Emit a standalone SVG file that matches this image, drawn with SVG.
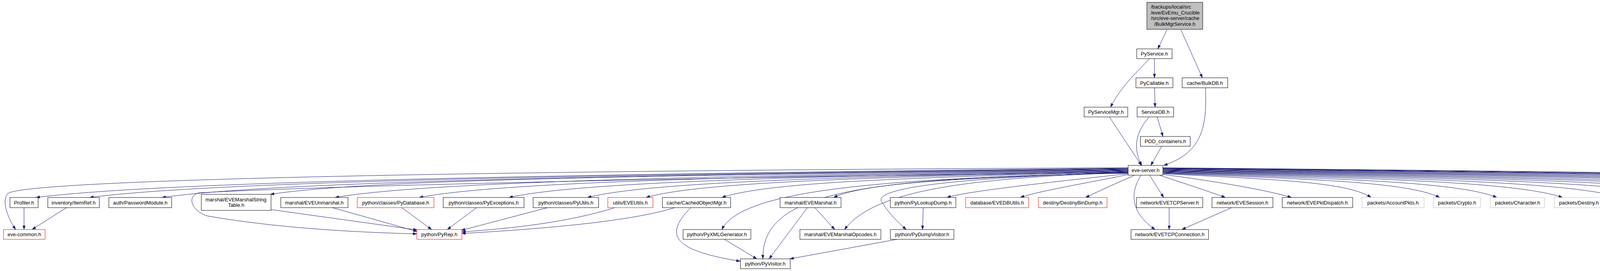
<svg xmlns="http://www.w3.org/2000/svg" width="6338" height="693" viewBox="0 0 6338 693">
<style>
.n rect{fill:#fff;stroke:#000;stroke-width:1}
.n.g rect{stroke:#bfbfbf}
.n.r rect{stroke:#ff0000}
.n.root rect{fill:#bfbfbf}
text{font-family:"Liberation Sans",Arial,Helvetica,sans-serif;font-size:13px;text-anchor:middle;fill:#000}
text.l{text-anchor:start}
#edges path{fill:none;stroke:#191970;stroke-width:1;marker-end:url(#a)}
</style>
<defs>
<marker id="a" markerUnits="userSpaceOnUse" markerWidth="10" markerHeight="7" viewBox="0 0 10 7" refX="10" refY="3.5" orient="auto">
<path d="M0,0 L10,3.5 L0,7 z" fill="#191970" stroke="#191970" stroke-width="0.5"/>
</marker>
</defs>
<rect width="6338" height="693" fill="#fff"/>
<g id="edges">
<path d="M2987.5,76 L2964,125"/>
<path d="M3023,76 L3078,199"/>
<path d="M2942,151 C2915,180 2870,220 2843,274"/>
<path d="M2955.4,151 L2955.4,199"/>
<path d="M2955.8,225 L2957,274"/>
<path d="M2962.6,299 L2977,349"/>
<path d="M2942,299 C2915,330 2895,370 2923,423"/>
<path d="M2840,299 L2922,423"/>
<path d="M2974,374 L2946,423"/>
<path d="M3086,225 C3090,320 3080,390 2979,423"/>
<path d="M2888,430 C1490,445 427,463 92,505"/>
<path d="M2888,431 C1559,446 549,463 229.6,505"/>
<path d="M2888,432 C1651,447 711,463 414.5,505"/>
<path d="M2888,433 C1789,448 954,456 692,497"/>
<path d="M2888,434 C1873,449 1101,463 857.8,505"/>
<path d="M2888,435 C1980,450 1291,463 1073,505"/>
<path d="M2888,436 C2095,451 1493,463 1303,505"/>
<path d="M2888,437 C2196,452 1670,463 1504,505"/>
<path d="M2888,438 C2271,453 1802,463 1653.7,505"/>
<path d="M2888,439 C2368,454 1973,463 1848,505"/>
<path d="M2888,440 C2511,455 2224,463 2134,505"/>
<path d="M2889,444 C2700,465 2480,488 2424,505"/>
<path d="M2890,446 C2800,465 2660,488 2612,505"/>
<path d="M2905,448 C2863,466 2821,485 2779,505"/>
<path d="M2943,448 C2955,467 2967,486 2979,505"/>
<path d="M2968,448 C3020,465 3090,488 3137,505"/>
<path d="M2977,446 C3100,462 3240,485 3306,505"/>
<path d="M2977,444 C3243,459 3446,463 3510,505"/>
<path d="M2977,443 C3331,458 3600,463 3685.6,505"/>
<path d="M2977,442 C3404,457 3729,463 3832,505"/>
<path d="M2977,441 C3488,456 3877,463 4000,505"/>
<path d="M2977,440 C3563,455 4009,463 4150,505"/>
<path d="M2977,439 C3645,454 4152,463 4312.5,505"/>
<path d="M2977,438 C3720,453 4286,463 4464,505"/>
<path d="M2977,437 C3796,452 4418,463 4615,505"/>
<path d="M2977,436 C3868,451 4545,463 4759,505"/>
<path d="M2977,435 C3960,450 4707,463 4942.6,505"/>
<path d="M2977,434 C4031,449 4832,463 5085,505"/>
<path d="M2977,433 C4106,448 4964,463 5234.6,505"/>
<path d="M2977,432 C4189,447 5110,463 5401,505"/>
<path d="M2977,431 C4283,446 5275,463 5588.7,505"/>
<path d="M2977,430.5 C4367,445 5424,463 5757.7,505"/>
<path d="M2977,430 C4444,445 5559,463 5911,505"/>
<path d="M2977,429.5 C4517,444 5688,463 6058,505"/>
<path d="M2977,429 C4594,443 5823,463 6211.6,505"/>
<path d="M2888,429 C1200,436 60,460 20,495 C2,515 22,560 40,587"/>
<path d="M2888,441 C2000,450 900,472 510,493 C478,500 488,538 530,552 C700,582 900,594 1067,598"/>
<path d="M61.5,531 L61.5,587"/>
<path d="M170,531 L82,587"/>
<path d="M694,536 L1068,588"/>
<path d="M851,531 L1068,592"/>
<path d="M1028.7,531 L1105,587"/>
<path d="M1220,531 L1145,587"/>
<path d="M1402,531 L1181,589"/>
<path d="M1574,531 C1450,570 1300,585 1182,593"/>
<path d="M1727,531 C1620,565 1400,585 1182,597"/>
<path d="M1768.5,531 C1700,600 1720,640 1895,668"/>
<path d="M1854.6,612 L1937.5,662"/>
<path d="M2888,442 C2300,456 1900,480 1848,587"/>
<path d="M2888,443 C2200,455 1950,490 1953,662"/>
<path d="M2067,531 L1969,662"/>
<path d="M2086,531 L2137,587"/>
<path d="M2888,441 C2500,455 2240,482 2162,587"/>
<path d="M2888,440 C2450,455 2220,480 2260,520 C2275,545 2300,570 2320,587"/>
<path d="M2363.5,531 L2361.6,587"/>
<path d="M2296.6,612 L2022,662"/>
<path d="M2921,448 C2895,490 2890,540 2957,587"/>
<path d="M2993,531 L2993,587"/>
<path d="M3153,531 L3025.5,587"/>
</g>
<g id="n_root" class="n root"><rect x="2936" y="6" width="143" height="69"/><text class="l" x="2946" y="22">/backups/local/src</text><text class="l" x="2946" y="37">/eve/EvEmu_Crucible</text><text class="l" x="2946" y="51">/src/eve-server/cache</text><text x="3007.5" y="66">/BulkMgrService.h</text></g>
<g id="n_pyservice" class="n"><rect x="2910" y="125" width="90.5" height="25"/><text x="2955.25" y="142">PyService.h</text></g>
<g id="n_pycallable" class="n"><rect x="2908" y="199" width="94.7" height="25.5"/><text x="2955.35" y="216.5">PyCallable.h</text></g>
<g id="n_bulkdb" class="n"><rect x="3026.3" y="199" width="116.6" height="25.5"/><text x="3084.6" y="216.5">cache/BulkDB.h</text></g>
<g id="n_pyservicemgr" class="n"><rect x="2775.4" y="274" width="111.6" height="25"/><text x="2831.2" y="291">PyServiceMgr.h</text></g>
<g id="n_servicedb" class="n"><rect x="2911" y="274" width="93.5" height="25"/><text x="2957.75" y="291">ServiceDB.h</text></g>
<g id="n_pod" class="n"><rect x="2919.5" y="349" width="127.5" height="25"/><text x="2983.25" y="366">POD_containers.h</text></g>
<g id="n_eveserver" class="n"><rect x="2888" y="423" width="89" height="25"/><text x="2932.5" y="440">eve-server.h</text></g>
<g id="n_profiler" class="n"><rect x="25.5" y="505" width="72" height="26"/><text x="61.5" y="522.5">Profiler.h</text></g>
<g id="n_itemref" class="n"><rect x="122.4" y="505" width="132" height="26"/><text x="188.4" y="522.5">inventory/ItemRef.h</text></g>
<g id="n_password" class="n"><rect x="278.7" y="505" width="160.7" height="26"/><text x="359.05" y="522.5">auth/PasswordModule.h</text></g>
<g id="n_stringtable" class="n"><rect x="515.3" y="497" width="178.6" height="41"/><text class="l" x="526" y="514.5">marshal/EVEMarshalString</text><text x="604.6" y="528.5">Table.h</text></g>
<g id="n_unmarshal" class="n"><rect x="718.8" y="505" width="172" height="26"/><text x="804.8" y="522.5">marshal/EVEUnmarshal.h</text></g>
<g id="n_pydatabase" class="n r"><rect x="914.5" y="505" width="196.5" height="26"/><text x="1012.75" y="522.5">python/classes/PyDatabase.h</text></g>
<g id="n_pyexceptions" class="n"><rect x="1134.6" y="505" width="207" height="26"/><text x="1238.1" y="522.5">python/classes/PyExceptions.h</text></g>
<g id="n_pyutils" class="n"><rect x="1364.8" y="505" width="167.7" height="26"/><text x="1448.65" y="522.5">python/classes/PyUtils.h</text></g>
<g id="n_eveutils" class="n r"><rect x="1556" y="505" width="115.6" height="26"/><text x="1613.8" y="522.5">utils/EVEUtils.h</text></g>
<g id="n_cachedobj" class="n"><rect x="1695.8" y="505" width="174.7" height="26"/><text x="1783.15" y="522.5">cache/CachedObjectMgr.h</text></g>
<g id="n_marshal" class="n"><rect x="1997" y="505" width="156" height="26"/><text x="2075" y="522.5">marshal/EVEMarshal.h</text></g>
<g id="n_pylookup" class="n"><rect x="2279.3" y="505" width="167.7" height="26"/><text x="2363.15" y="522.5">python/PyLookupDump.h</text></g>
<g id="n_evedbutils" class="n r"><rect x="2472" y="505" width="161.3" height="26"/><text x="2552.65" y="522.5">database/EVEDBUtils.h</text></g>
<g id="n_destinybin" class="n r"><rect x="2658" y="505" width="176" height="26"/><text x="2746" y="522.5">destiny/DestinyBinDump.h</text></g>
<g id="n_tcpserver" class="n"><rect x="2909.4" y="505" width="169.6" height="26"/><text x="2994.2" y="522.5">network/EVETCPServer.h</text></g>
<g id="n_session" class="n"><rect x="3102.7" y="505" width="156" height="26"/><text x="3180.7" y="522.5">network/EVESession.h</text></g>
<g id="n_pktdispatch" class="n"><rect x="3282.5" y="505" width="180.5" height="26"/><text x="3372.75" y="522.5">network/EVEPktDispatch.h</text></g>
<g id="n_accountpkts" class="n g"><rect x="3486.6" y="505" width="158.8" height="26"/><text x="3566" y="522.5">packets/AccountPkts.h</text></g>
<g id="n_crypto" class="n g"><rect x="3669.6" y="505" width="121" height="26"/><text x="3730.1" y="522.5">packets/Crypto.h</text></g>
<g id="n_character" class="n g"><rect x="3815.7" y="505" width="138.4" height="26"/><text x="3884.9" y="522.5">packets/Character.h</text></g>
<g id="n_destiny" class="n g"><rect x="3979" y="505" width="126" height="26"/><text x="4042" y="522.5">packets/Destiny.h</text></g>
<g id="n_dogmaim" class="n g"><rect x="4130" y="505" width="138.5" height="26"/><text x="4199.25" y="522.5">packets/DogmaIM.h</text></g>
<g id="n_general" class="n g"><rect x="4292.7" y="505" width="128" height="26"/><text x="4356.7" y="522.5">packets/General.h</text></g>
<g id="n_inventory" class="n g"><rect x="4444.5" y="505" width="134" height="26"/><text x="4511.5" y="522.5">packets/Inventory.h</text></g>
<g id="n_mail" class="n g"><rect x="4602" y="505" width="106.5" height="26"/><text x="4655.25" y="522.5">packets/Mail.h</text></g>
<g id="n_objcaching" class="n g"><rect x="4732.8" y="505" width="167.7" height="26"/><text x="4816.65" y="522.5">packets/ObjectCaching.h</text></g>
<g id="n_tutorial" class="n g"><rect x="4924.7" y="505" width="124.8" height="26"/><text x="4987.1" y="522.5">packets/Tutorial.h</text></g>
<g id="n_wallet" class="n g"><rect x="5075" y="505" width="119.5" height="26"/><text x="5134.75" y="522.5">packets/Wallet.h</text></g>
<g id="n_pypacket" class="n r"><rect x="5218.4" y="505" width="133" height="26"/><text x="5284.9" y="522.5">python/PyPacket.h</text></g>
<g id="n_attrenum" class="n"><rect x="5375.4" y="505" width="170.6" height="26"/><text x="5460.7" y="522.5">inventory/AttributeEnum.h</text></g>
<g id="n_invcategories" class="n"><rect x="5570" y="505" width="149.3" height="26"/><text x="5644.65" y="522.5">tables/invCategories.h</text></g>
<g id="n_invgroups" class="n"><rect x="5743.2" y="505" width="128.8" height="26"/><text x="5807.6" y="522.5">tables/invGroups.h</text></g>
<g id="n_invtypes" class="n"><rect x="5896" y="505" width="121" height="26"/><text x="5956.5" y="522.5">tables/invTypes.h</text></g>
<g id="n_mutex" class="n r"><rect x="6041" y="505" width="127" height="26"/><text x="6104.5" y="522.5">threading/Mutex.h</text></g>
<g id="n_xmlparser" class="n r"><rect x="6192" y="505" width="141" height="26"/><text x="6262.5" y="522.5">utils/XMLParserEx.h</text></g>
<g id="n_evecommon" class="n r"><rect x="8.9" y="587" width="106.5" height="25"/><text x="62.15" y="604">eve-common.h</text></g>
<g id="n_pyrep" class="n r"><rect x="1067" y="587" width="115.4" height="25"/><text x="1124.7" y="604">python/PyRep.h</text></g>
<g id="n_pyxmlgen" class="n"><rect x="1748.7" y="587" width="173.5" height="25"/><text x="1835.45" y="604">python/PyXMLGenerator.h</text></g>
<g id="n_opcodes" class="n"><rect x="2047.8" y="587" width="207.2" height="25"/><text x="2151.4" y="604">marshal/EVEMarshalOpcodes.h</text></g>
<g id="n_pydumpvisitor" class="n"><rect x="2279.3" y="587" width="162.7" height="25"/><text x="2360.65" y="604">python/PyDumpVisitor.h</text></g>
<g id="n_tcpconnection" class="n"><rect x="2895.4" y="587" width="198.4" height="25"/><text x="2994.6" y="604">network/EVETCPConnection.h</text></g>
<g id="n_pyvisitor" class="n"><rect x="1895.4" y="662" width="127.6" height="25"/><text x="1959.2" y="679">python/PyVisitor.h</text></g>
</svg>
